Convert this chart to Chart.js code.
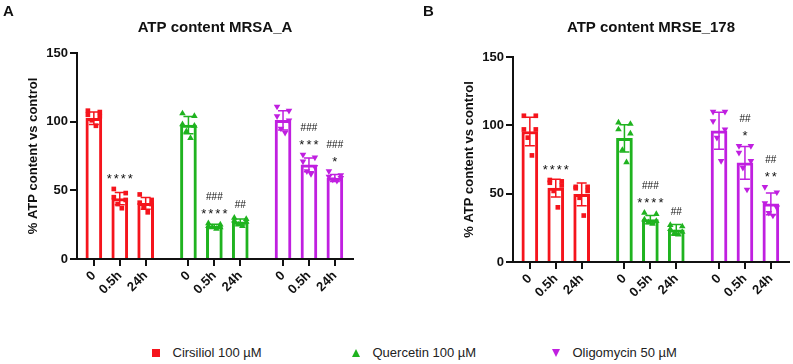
<!DOCTYPE html>
<html>
<head>
<meta charset="utf-8">
<script src="https://cdn.jsdelivr.net/npm/chart.js@4"></script>
<style>
  body { margin: 0; background: #fff; font-family: 'Liberation Sans', Arial, sans-serif; }
  #wrap { position: relative; width: 793px; height: 364px; overflow: hidden; }
  #panelA { position: absolute; left: 0; top: 0; }
  #panelB { position: absolute; left: 400px; top: 0; }
  .letter { position: absolute; top: 3px; font-size: 15px; line-height: 15px; font-weight: bold; color: #111; }
  .leg { position: absolute; top: 346px; font-size: 13px; line-height: 13px; color: #222; white-space: nowrap; }
  .mk { position: absolute; top: 349px; width: 0; height: 0; }
</style>
</head>
<body>
<div id="wrap">
  <canvas id="panelA" width="400" height="310"></canvas>
  <canvas id="panelB" width="393" height="310"></canvas>
  <div class="letter" style="left:3px">A</div>
  <div class="letter" style="left:423px">B</div>
  <div id="legend"></div>
</div>
<script>
const timeLabels = ['0', '0.5h', '24h']
const treatments = ['Cirsiliol 100 µM', 'Quercetin 100 µM', 'Oligomycin 50 µM']

// Panel A - MRSA_A : bar = mean, sd = error bar, pts = replicates
const cirsiliolA = [102.5, 44, 40.5]
const quercetinA = [97.5, 24, 27]
const oligomycinA = [101, 68.5, 59]
const cirsiliolA_sd = [4.5, 4.5, 4.2]
const quercetinA_sd = [6.3, 1.3, 2.2]
const oligomycinA_sd = [7, 5, 2.5]
const cirsiliolA_pts = [[108, 107, 105, 104, 101, 97], [51, 48, 45, 43, 40, 37], [47, 43, 41, 40, 38, 34]]
const quercetinA_pts = [[106, 104, 98, 97, 93, 88], [26, 25, 24, 23, 23, 22], [30, 29, 28, 27, 25, 24]]
const oligomycinA_pts = [[111, 108, 104, 101, 95, 92], [76, 74, 71, 67, 64, 62], [64, 61, 60, 59, 58, 57]]
const starsA = ['', '****', '', '', '****', '', '', '***', '*']
const hashA = ['', '', '', '', '###', '##', '', '###', '###']

// Panel B - MRSE_178
const cirsiliolB = [95.5, 54, 49.5]
const quercetinB = [90.5, 31, 23.5]
const oligomycinB = [96, 72.5, 42.5]
const cirsiliolB_sd = [10.5, 6.5, 8.3]
const quercetinB_sd = [10, 3, 4]
const oligomycinB_sd = [13.5, 12, 8]
const cirsiliolB_pts = [[107, 107, 97, 97, 91, 78], [60, 59, 58, 56, 52, 40], [55, 55, 54, 52, 47, 34]]
const quercetinB_pts = [[102, 101, 97, 94, 82, 73], [36, 35, 31, 30, 29, 28], [27, 26, 24, 22, 21, 20]]
const oligomycinB_pts = [[110, 110, 103, 97, 91, 74], [85, 85, 80, 74, 69, 53], [55, 51, 43, 40, 36, 34]]
const starsB = ['', '****', '', '', '****', '', '', '*', '**']
const hashB = ['', '', '', '', '###', '##', '', '##', '##']

const COLORS = ['#f5141c', '#1fb31f', '#c01fe0']
const MARKERS = [
  { style: 'rect', rotation: 0, radius: 3.3 },
  { style: 'triangle', rotation: 0, radius: 3.8 },
  { style: 'triangle', rotation: 180, radius: 3.8 },
]
const INK = '#111'
const FONT = "'Liberation Sans', Arial, sans-serif"
const GROUP_STEP = 3.65
const JITTER = [-0.23, 0.23, -0.23, 0.23, -0.08, 0.08]

const barX = (g, i) => g * GROUP_STEP + i

function makePanel(id, title, means, sds, pts, stars, hashes, opt) {
  const bars = []
  const barColors = []
  const sdFlat = []
  const topVal = []
  means.forEach((grp, g) =>
    grp.forEach((v, i) => {
      bars.push({ x: barX(g, i), y: v })
      barColors.push(COLORS[g])
      sdFlat.push(sds[g][i])
      topVal.push(Math.max(v + sds[g][i], ...pts[g][i]))
    })
  )
  const tickPos = bars.map(b => b.x)
  const tickText = means.flatMap(() => timeLabels)

  const pointSets = pts.map((grp, g) => ({
    type: 'scatter',
    data: grp.flatMap((vals, i) => vals.map((v, k) => ({ x: barX(g, i) + JITTER[k], y: v }))),
    pointStyle: MARKERS[g].style,
    pointRotation: MARKERS[g].rotation,
    pointRadius: MARKERS[g].radius,
    backgroundColor: COLORS[g],
    borderColor: COLORS[g],
    borderWidth: 0,
    order: 0,
  }))

  const errorBars = {
    id: 'errorBars',
    afterDatasetDraw(chart, args) {
      if (args.index !== 0) return
      const { ctx } = chart
      const { x, y } = chart.scales
      ctx.save()
      ctx.lineWidth = 1.5
      bars.forEach((b, j) => {
        const px = x.getPixelForValue(b.x)
        const hi = y.getPixelForValue(b.y + sdFlat[j])
        const lo = y.getPixelForValue(b.y - sdFlat[j])
        ctx.strokeStyle = barColors[j]
        ctx.beginPath()
        ctx.moveTo(px, hi); ctx.lineTo(px, lo)
        ctx.moveTo(px - 5, hi); ctx.lineTo(px + 5, hi)
        ctx.moveTo(px - 5, lo); ctx.lineTo(px + 5, lo)
        ctx.stroke()
      })
      ctx.restore()
    },
  }

  const sigMarks = {
    id: 'sigMarks',
    afterDatasetsDraw(chart) {
      const { ctx } = chart
      const { x, y } = chart.scales
      ctx.save()
      ctx.fillStyle = INK
      ctx.textAlign = 'center'
      ctx.textBaseline = 'alphabetic'
      bars.forEach((b, j) => {
        const px = x.getPixelForValue(b.x)
        let cy = y.getPixelForValue(topVal[j]) - 13
        if (stars[j]) {
          ctx.font = '13px ' + FONT
          ctx.letterSpacing = '2px'
          ctx.fillText(stars[j], px + 1, cy + 7.4)
          cy -= 14
        }
        if (hashes[j]) {
          ctx.font = '10px ' + FONT
          ctx.letterSpacing = '0px'
          ctx.fillText(hashes[j], px, cy + 3.6)
        }
      })
      ctx.restore()
    },
  }

  return new Chart(document.getElementById(id), {
    type: 'bar',
    data: {
      datasets: [
        {
          type: 'bar',
          data: bars,
          backgroundColor: '#ffffff',
          borderColor: barColors,
          borderWidth: 3,
          barThickness: 16,
          order: 2,
        },
        ...pointSets,
      ],
    },
    options: {
      responsive: false,
      animation: false,
      events: [],
      layout: { padding: { left: 0, right: opt.padRight, top: 0, bottom: 0 } },
      plugins: {
        legend: { display: false },
        tooltip: { enabled: false },
        title: {
          display: true,
          text: title,
          fullSize: false,
          color: INK,
          font: { family: FONT, size: 15, weight: 'bold' },
          padding: { top: 19, bottom: opt.titleBottom },
        },
      },
      scales: {
        x: {
          type: 'linear',
          min: -0.65,
          max: 10,
          offset: false,
          afterBuildTicks: s => {
            s.ticks = tickPos.map(v => ({ value: v }))
          },
          afterFit: s => {
            s.height = opt.axisH
          },
          ticks: {
            autoSkip: false,
            minRotation: 45,
            maxRotation: 45,
            padding: 2,
            color: INK,
            font: { family: FONT, size: 13, weight: 'bold' },
            callback: (v, i) => tickText[i],
          },
          grid: { display: true, drawOnChartArea: false, drawTicks: true, tickLength: 7, color: INK, lineWidth: 2, offset: false },
          border: { display: true, width: 2, color: INK },
        },
        y: {
          min: 0,
          max: 150,
          afterFit: s => {
            s.width = opt.axisW
          },
          ticks: {
            stepSize: 50,
            padding: 2,
            color: INK,
            font: { family: FONT, size: 13, weight: 'bold' },
          },
          grid: { display: true, drawOnChartArea: false, drawTicks: true, tickLength: 7, color: INK, lineWidth: 2 },
          border: { display: true, width: 2, color: INK },
          title: {
            display: true,
            text: '% ATP content vs control',
            color: INK,
            font: { family: FONT, size: 13, weight: 'bold' },
            padding: { top: opt.yTitlePad, bottom: 0 },
          },
        },
      },
    },
    plugins: [errorBars, sigMarks],
  })
}

makePanel(
  'panelA',
  'ATP content MRSA_A',
  [cirsiliolA, quercetinA, oligomycinA],
  [cirsiliolA_sd, quercetinA_sd, oligomycinA_sd],
  [cirsiliolA_pts, quercetinA_pts, oligomycinA_pts],
  starsA,
  hashA,
  { padRight: 47, titleBottom: 16, axisH: 51, axisW: 77, yTitlePad: 26 }
)

makePanel(
  'panelB',
  'ATP content MRSE_178',
  [cirsiliolB, quercetinB, oligomycinB],
  [cirsiliolB_sd, quercetinB_sd, oligomycinB_sd],
  [cirsiliolB_pts, quercetinB_pts, oligomycinB_pts],
  starsB,
  hashB,
  { padRight: 3, titleBottom: 20, axisH: 48, axisW: 113, yTitlePad: 62 }
)

// shared legend
const legendLeft = [152, 352, 552]
const legend = document.getElementById('legend')
treatments.forEach((name, g) => {
  const mk = document.createElement('div')
  mk.className = 'mk'
  mk.style.left = legendLeft[g] + 'px'
  if (g === 0) {
    mk.style.width = '8px'
    mk.style.height = '8px'
    mk.style.background = COLORS[g]
  } else if (g === 1) {
    mk.style.borderLeft = '4px solid transparent'
    mk.style.borderRight = '4px solid transparent'
    mk.style.borderBottom = '8px solid ' + COLORS[g]
  } else {
    mk.style.borderLeft = '4px solid transparent'
    mk.style.borderRight = '4px solid transparent'
    mk.style.borderTop = '8px solid ' + COLORS[g]
  }
  legend.appendChild(mk)
  const txt = document.createElement('div')
  txt.className = 'leg'
  txt.style.left = legendLeft[g] + 20.5 + 'px'
  txt.textContent = name
  legend.appendChild(txt)
})
</script>
</body>
</html>
